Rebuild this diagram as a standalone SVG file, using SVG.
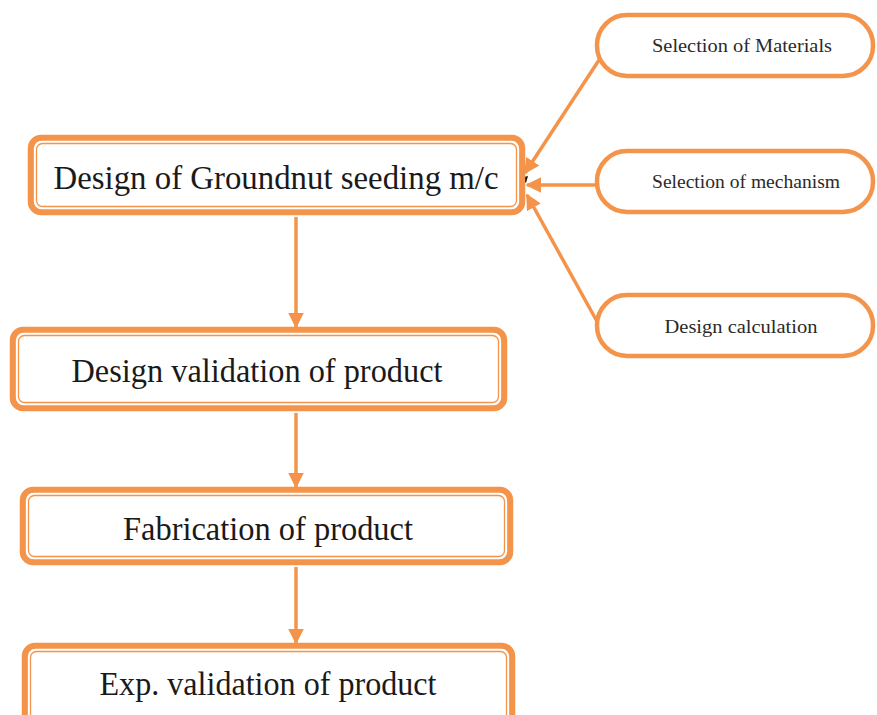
<svg xmlns="http://www.w3.org/2000/svg" width="877" height="715" viewBox="0 0 877 715">
<defs>
<style>
.ob{fill:#fff;stroke:#F3944A;stroke-width:6.5}
.wl{fill:none;stroke:#fff;stroke-width:1.3}
.il{fill:none;stroke:#F3944A;stroke-width:1.3}
.st{fill:#fff;stroke:#F3944A;stroke-width:4.5}
.big{font-family:'Liberation Serif',Tinos,'Times New Roman',Times,serif;font-size:34px;fill:#1a1a1a;text-anchor:middle}
.sm{font-family:'Liberation Serif',Tinos,'Times New Roman',Times,serif;font-size:18px;fill:#2a2a2a;text-anchor:middle}
.cn{stroke:#F3944A;stroke-width:3.5;fill:none}
</style>
<marker id="ah" viewBox="0 0 10 10" refX="9" refY="5" markerWidth="4.5" markerHeight="4.5" orient="auto" markerUnits="strokeWidth">
<path d="M0,0 L10,5 L0,10 z" fill="#F3944A"/>
</marker>
</defs>
<rect width="877" height="715" fill="#fff"/>
<g id="connectors">
<line class="cn" x1="296" y1="217" x2="296" y2="327" marker-end="url(#ah)"/>
<line class="cn" x1="296" y1="413" x2="296" y2="487" marker-end="url(#ah)"/>
<line class="cn" x1="296" y1="567" x2="296" y2="643" marker-end="url(#ah)"/>
<line class="cn" x1="599" y1="60" x2="525" y2="173" marker-end="url(#ah)"/>
<line class="cn" x1="597" y1="185" x2="527" y2="185" marker-end="url(#ah)"/>
<line class="cn" x1="599" y1="325" x2="527" y2="195" marker-end="url(#ah)"/>
<path d="M520,178 L528,176 L526,183 z" fill="#111"/>
</g>
<g id="n1">
<rect class="ob" x="31" y="138" width="491" height="74" rx="10"/>
<rect class="wl" x="34.5" y="141.5" width="484" height="67" rx="7"/>
<rect class="il" x="36.5" y="143.5" width="480" height="63" rx="6"/>
<text class="big" x="276" y="189" textLength="445" lengthAdjust="spacingAndGlyphs">Design of Groundnut seeding m/c</text>
</g>
<g id="n2">
<rect class="ob" x="13" y="330" width="491" height="78" rx="10"/>
<rect class="wl" x="16.5" y="333.5" width="484" height="71" rx="7"/>
<rect class="il" x="18.5" y="335.5" width="480" height="67" rx="6"/>
<text class="big" x="257" y="382" textLength="371" lengthAdjust="spacingAndGlyphs">Design validation of product</text>
</g>
<g id="n3">
<rect class="ob" x="23" y="490" width="487" height="72" rx="10"/>
<rect class="wl" x="26.5" y="493.5" width="480" height="65" rx="7"/>
<rect class="il" x="28.5" y="495.5" width="476" height="61" rx="6"/>
<text class="big" x="268" y="540" textLength="290" lengthAdjust="spacingAndGlyphs">Fabrication of product</text>
</g>
<g id="n4">
<rect class="ob" x="25" y="646" width="487" height="80" rx="10"/>
<rect class="wl" x="28.5" y="649.5" width="480" height="73" rx="7"/>
<rect class="il" x="30.5" y="651.5" width="476" height="69" rx="6"/>
<text class="big" x="268" y="695" textLength="337" lengthAdjust="spacingAndGlyphs">Exp. validation of product</text>
</g>
<g id="s1">
<rect class="st" x="597" y="15" width="276" height="61" rx="30"/>
<text class="sm" x="742" y="52" textLength="180" lengthAdjust="spacingAndGlyphs">Selection of Materials</text>
</g>
<g id="s2">
<rect class="st" x="597" y="151" width="276" height="61" rx="30"/>
<text class="sm" x="746" y="188" textLength="188" lengthAdjust="spacingAndGlyphs">Selection of mechanism</text>
</g>
<g id="s3">
<rect class="st" x="597" y="295" width="276" height="61" rx="30"/>
<text class="sm" x="741" y="333" textLength="153" lengthAdjust="spacingAndGlyphs">Design calculation</text>
</g>
</svg>
